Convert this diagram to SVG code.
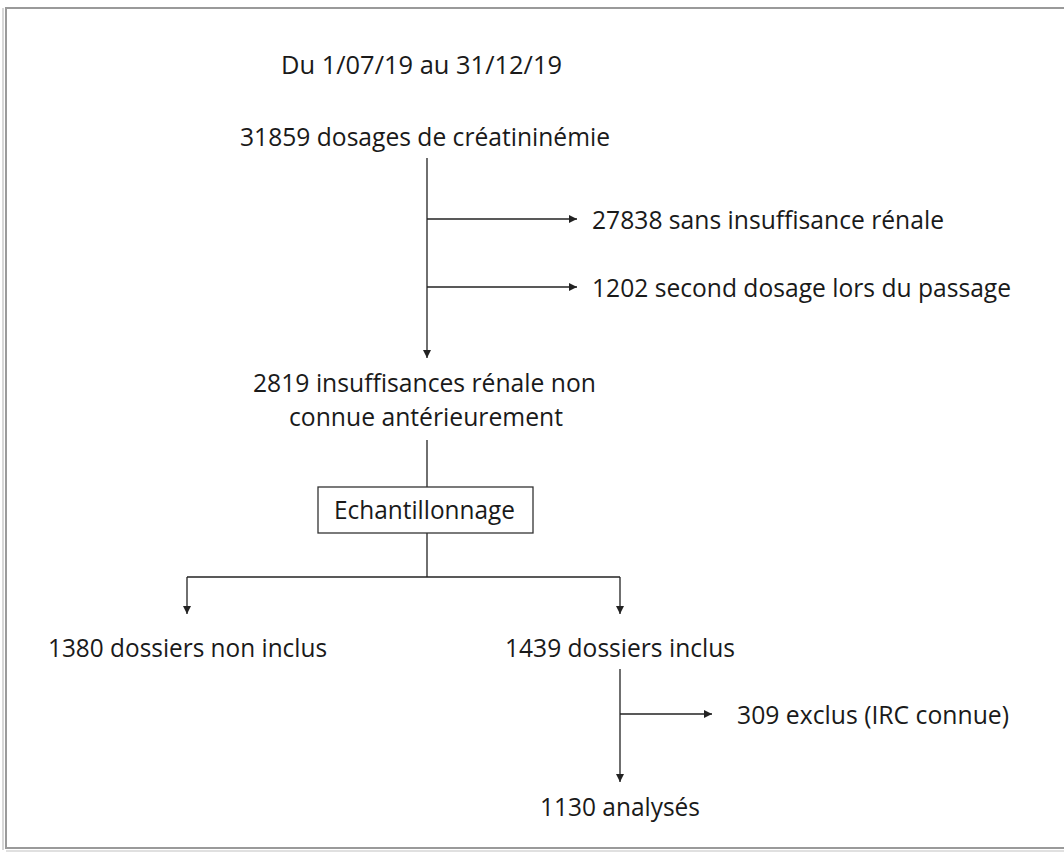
<svg xmlns="http://www.w3.org/2000/svg" width="1064" height="852" viewBox="0 0 1064 852">
<style>
.t{font-family:"Open Sans","Noto Sans","Liberation Sans",sans-serif;font-size:25px;fill:#1a1a1a}
.c{stroke:#222;stroke-width:1.3;fill:none}
</style>
<defs>
<marker id="ah" viewBox="0 0 10 10" refX="10" refY="5" markerWidth="8" markerHeight="8" markerUnits="userSpaceOnUse" orient="auto">
<path d="M0,0 L10,5 L0,10 z" fill="#222"/>
</marker>
</defs>
<rect x="0" y="0" width="1064" height="852" fill="#fff"/>
<g id="frame">
<rect x="6" y="8" width="1060" height="840" fill="#fff" stroke="#9a9a9a" stroke-width="2"/>
<line x1="3" y1="8" x2="3" y2="850" stroke="#d8d8d8" stroke-width="2"/>
<line x1="6" y1="851" x2="1064" y2="851" stroke="#e0e0e0" stroke-width="2"/>
</g>
<g id="connectors">
<line class="c" x1="427" y1="158" x2="427" y2="358" marker-end="url(#ah)"/>
<line class="c" x1="427" y1="219" x2="577" y2="219" marker-end="url(#ah)"/>
<line class="c" x1="427" y1="287" x2="577" y2="287" marker-end="url(#ah)"/>
<line class="c" x1="427" y1="440" x2="427" y2="487"/>
<line class="c" x1="427" y1="533" x2="427" y2="577"/>
<line class="c" x1="187" y1="577" x2="620" y2="577"/>
<line class="c" x1="187" y1="577" x2="187" y2="614" marker-end="url(#ah)"/>
<line class="c" x1="620" y1="577" x2="620" y2="614" marker-end="url(#ah)"/>
<line class="c" x1="620" y1="669" x2="620" y2="782" marker-end="url(#ah)"/>
<line class="c" x1="620" y1="714" x2="712" y2="714" marker-end="url(#ah)"/>
</g>
<g id="n-period"><text class="t" x="281" y="74" textLength="281" lengthAdjust="spacingAndGlyphs">Du 1/07/19 au 31/12/19</text></g>
<g id="n-dosages"><text class="t" x="240" y="146" textLength="370" lengthAdjust="spacingAndGlyphs">31859 dosages de créatininémie</text></g>
<g id="n-sans"><text class="t" x="592" y="229" textLength="352" lengthAdjust="spacingAndGlyphs">27838 sans insuffisance rénale</text></g>
<g id="n-second"><text class="t" x="592" y="297" textLength="419" lengthAdjust="spacingAndGlyphs">1202 second dosage lors du passage</text></g>
<g id="n-ir">
<text class="t" x="253" y="392" textLength="343" lengthAdjust="spacingAndGlyphs">2819 insuffisances rénale non</text>
<text class="t" x="289" y="426" textLength="274" lengthAdjust="spacingAndGlyphs">connue antérieurement</text>
</g>
<g id="n-echant">
<rect x="318" y="487" width="215" height="46" fill="#fff" stroke="#333" stroke-width="1.3"/>
<text class="t" x="334" y="519" textLength="181" lengthAdjust="spacingAndGlyphs">Echantillonnage</text>
</g>
<g id="n-noninclus"><text class="t" x="48" y="657" textLength="279" lengthAdjust="spacingAndGlyphs">1380 dossiers non inclus</text></g>
<g id="n-inclus"><text class="t" x="505" y="657" textLength="230" lengthAdjust="spacingAndGlyphs">1439 dossiers inclus</text></g>
<g id="n-exclus"><text class="t" x="737" y="724" textLength="272" lengthAdjust="spacingAndGlyphs">309 exclus (IRC connue)</text></g>
<g id="n-analyses"><text class="t" x="540" y="816" textLength="160" lengthAdjust="spacingAndGlyphs">1130 analysés</text></g>
</svg>
